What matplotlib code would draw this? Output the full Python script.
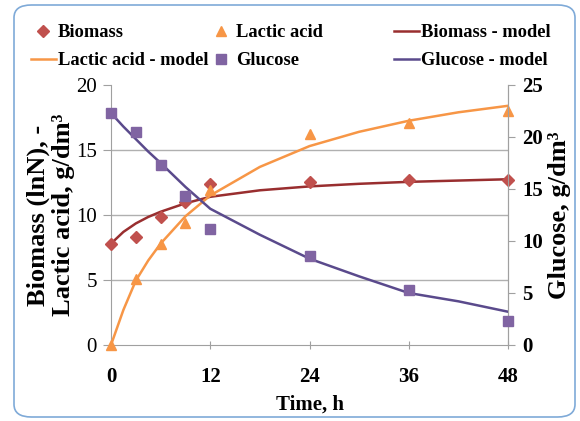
import matplotlib.pyplot as plt
from matplotlib.patches import FancyBboxPatch

# measured points
time_h = [0, 3, 6, 9, 12, 24, 36, 48]
biomass = [7.8, 8.3, 9.85, 11.0, 12.35, 12.55, 12.7, 12.7]
lactic = [0.0, 5.05, 7.75, 9.4, 11.9, 16.2, 17.1, 18.0]
glucose = [22.3, 20.45, 17.3, 14.3, 11.2, 8.6, 5.3, 2.3]

# model curves
model_t = [0, 1.5, 3, 4.5, 6, 9, 12, 18, 24, 30, 36, 42, 48]
biomass_model = [7.8, 8.7, 9.35, 9.85, 10.25, 10.9, 11.4, 11.9, 12.2, 12.4, 12.55, 12.65, 12.75]
lactic_model = [0.0, 2.7, 4.95, 6.5, 7.8, 9.9, 11.5, 13.7, 15.3, 16.4, 17.25, 17.9, 18.4]
glucose_model = [22.3, 21.0, 19.8, 18.6, 17.5, 15.2, 13.1, 10.6, 8.3, 6.6, 5.0, 4.2, 3.2]

x_ticks = [0, 12, 24, 36, 48]

plt.rcParams['font.family'] = ['Liberation Serif', 'DejaVu Serif']

RED = '#C0504D'
DARKRED = '#992E2F'
ORANGE = '#F79646'
PURPLE = '#8064A2'
DARKPURPLE = '#5A4A8C'
GRIDC = '#B0B0B0'
AXC = '#A0A0A0'

fig = plt.figure(figsize=(5.8, 4.21), dpi=100)
fig.patches.append(FancyBboxPatch((14 / 580, 4 / 421), 561 / 580, 412 / 421,
                                  boxstyle='round,pad=0,rounding_size=0.03',
                                  transform=fig.transFigure, facecolor='white',
                                  edgecolor='#7FAAD8', linewidth=1.2, zorder=-1))

ax = fig.add_axes([111 / 580, 76 / 421, 397 / 580, 260 / 421])
ax.patch.set_alpha(0)
ax2 = ax.twinx()

l1, = ax.plot(model_t, biomass_model, color=DARKRED, lw=1.8, label='Biomass - model', zorder=3)
l2, = ax.plot(model_t, lactic_model, color=ORANGE, lw=1.8, label='Lactic acid - model', zorder=3)
s1, = ax.plot(time_h, biomass, 'D', color=RED, ms=6, ls='none', label='Biomass', clip_on=False, zorder=4)
s2, = ax.plot(time_h, lactic, '^', color=ORANGE, ms=7, ls='none', label='Lactic acid', clip_on=False, zorder=4)
l3, = ax2.plot(model_t, glucose_model, color=DARKPURPLE, lw=1.8, label='Glucose - model', zorder=3)
s3, = ax2.plot(time_h, glucose, 's', color=PURPLE, ms=7.5, ls='none', label='Glucose', clip_on=False, zorder=4)

ax.set_xlim(0, 48)
ax.set_ylim(0, 20)
ax2.set_ylim(0, 25)
ax.set_xticks(x_ticks)
ax.set_yticks([0, 5, 10, 15, 20])
ax2.set_yticks([0, 5, 10, 15, 20, 25])

for y in [5, 10, 15]:
    ax.axhline(y, color=GRIDC, lw=1.0, zorder=1)

for a in (ax, ax2):
    a.spines['top'].set_visible(False)
    for s in ('left', 'right', 'bottom'):
        a.spines[s].set_color(AXC)
ax2.spines['left'].set_visible(False)
ax2.spines['bottom'].set_visible(False)

ax.tick_params(axis='x', direction='inout', length=6, color=AXC, labelsize=15, pad=13)
ax.tick_params(axis='y', direction='out', length=6, color=AXC, labelsize=15, pad=4)
ax2.tick_params(axis='y', direction='out', length=5, color=AXC, labelsize=15, pad=5)
for lab in ax.get_xticklabels() + ax2.get_yticklabels():
    lab.set_fontweight('bold')

ax.set_xlabel('Time, h', fontsize=15, fontweight='bold', labelpad=5)
ax.set_ylabel('Biomass (lnN), -\nLactic acid, g/dm³', fontsize=19,
              fontweight='bold', labelpad=1, linespacing=1.1)
ax2.set_ylabel('Glucose, g/dm³', fontsize=19, fontweight='bold', labelpad=4)

# three legend columns placed like the original
columns = [([s1, l2], 31), ([s2, s3], 209), ([l1, l3], 394)]
for hs, xpix in columns:
    fig.legend(handles=hs, loc='upper left', bbox_to_anchor=(xpix / 580, 1 - 24 / 421),
               frameon=False, prop={'weight': 'bold', 'size': 13.3}, handlelength=1.35,
               handletextpad=0.1, labelspacing=0.6, borderpad=0, borderaxespad=0)

fig.savefig('out.png', dpi=100)
